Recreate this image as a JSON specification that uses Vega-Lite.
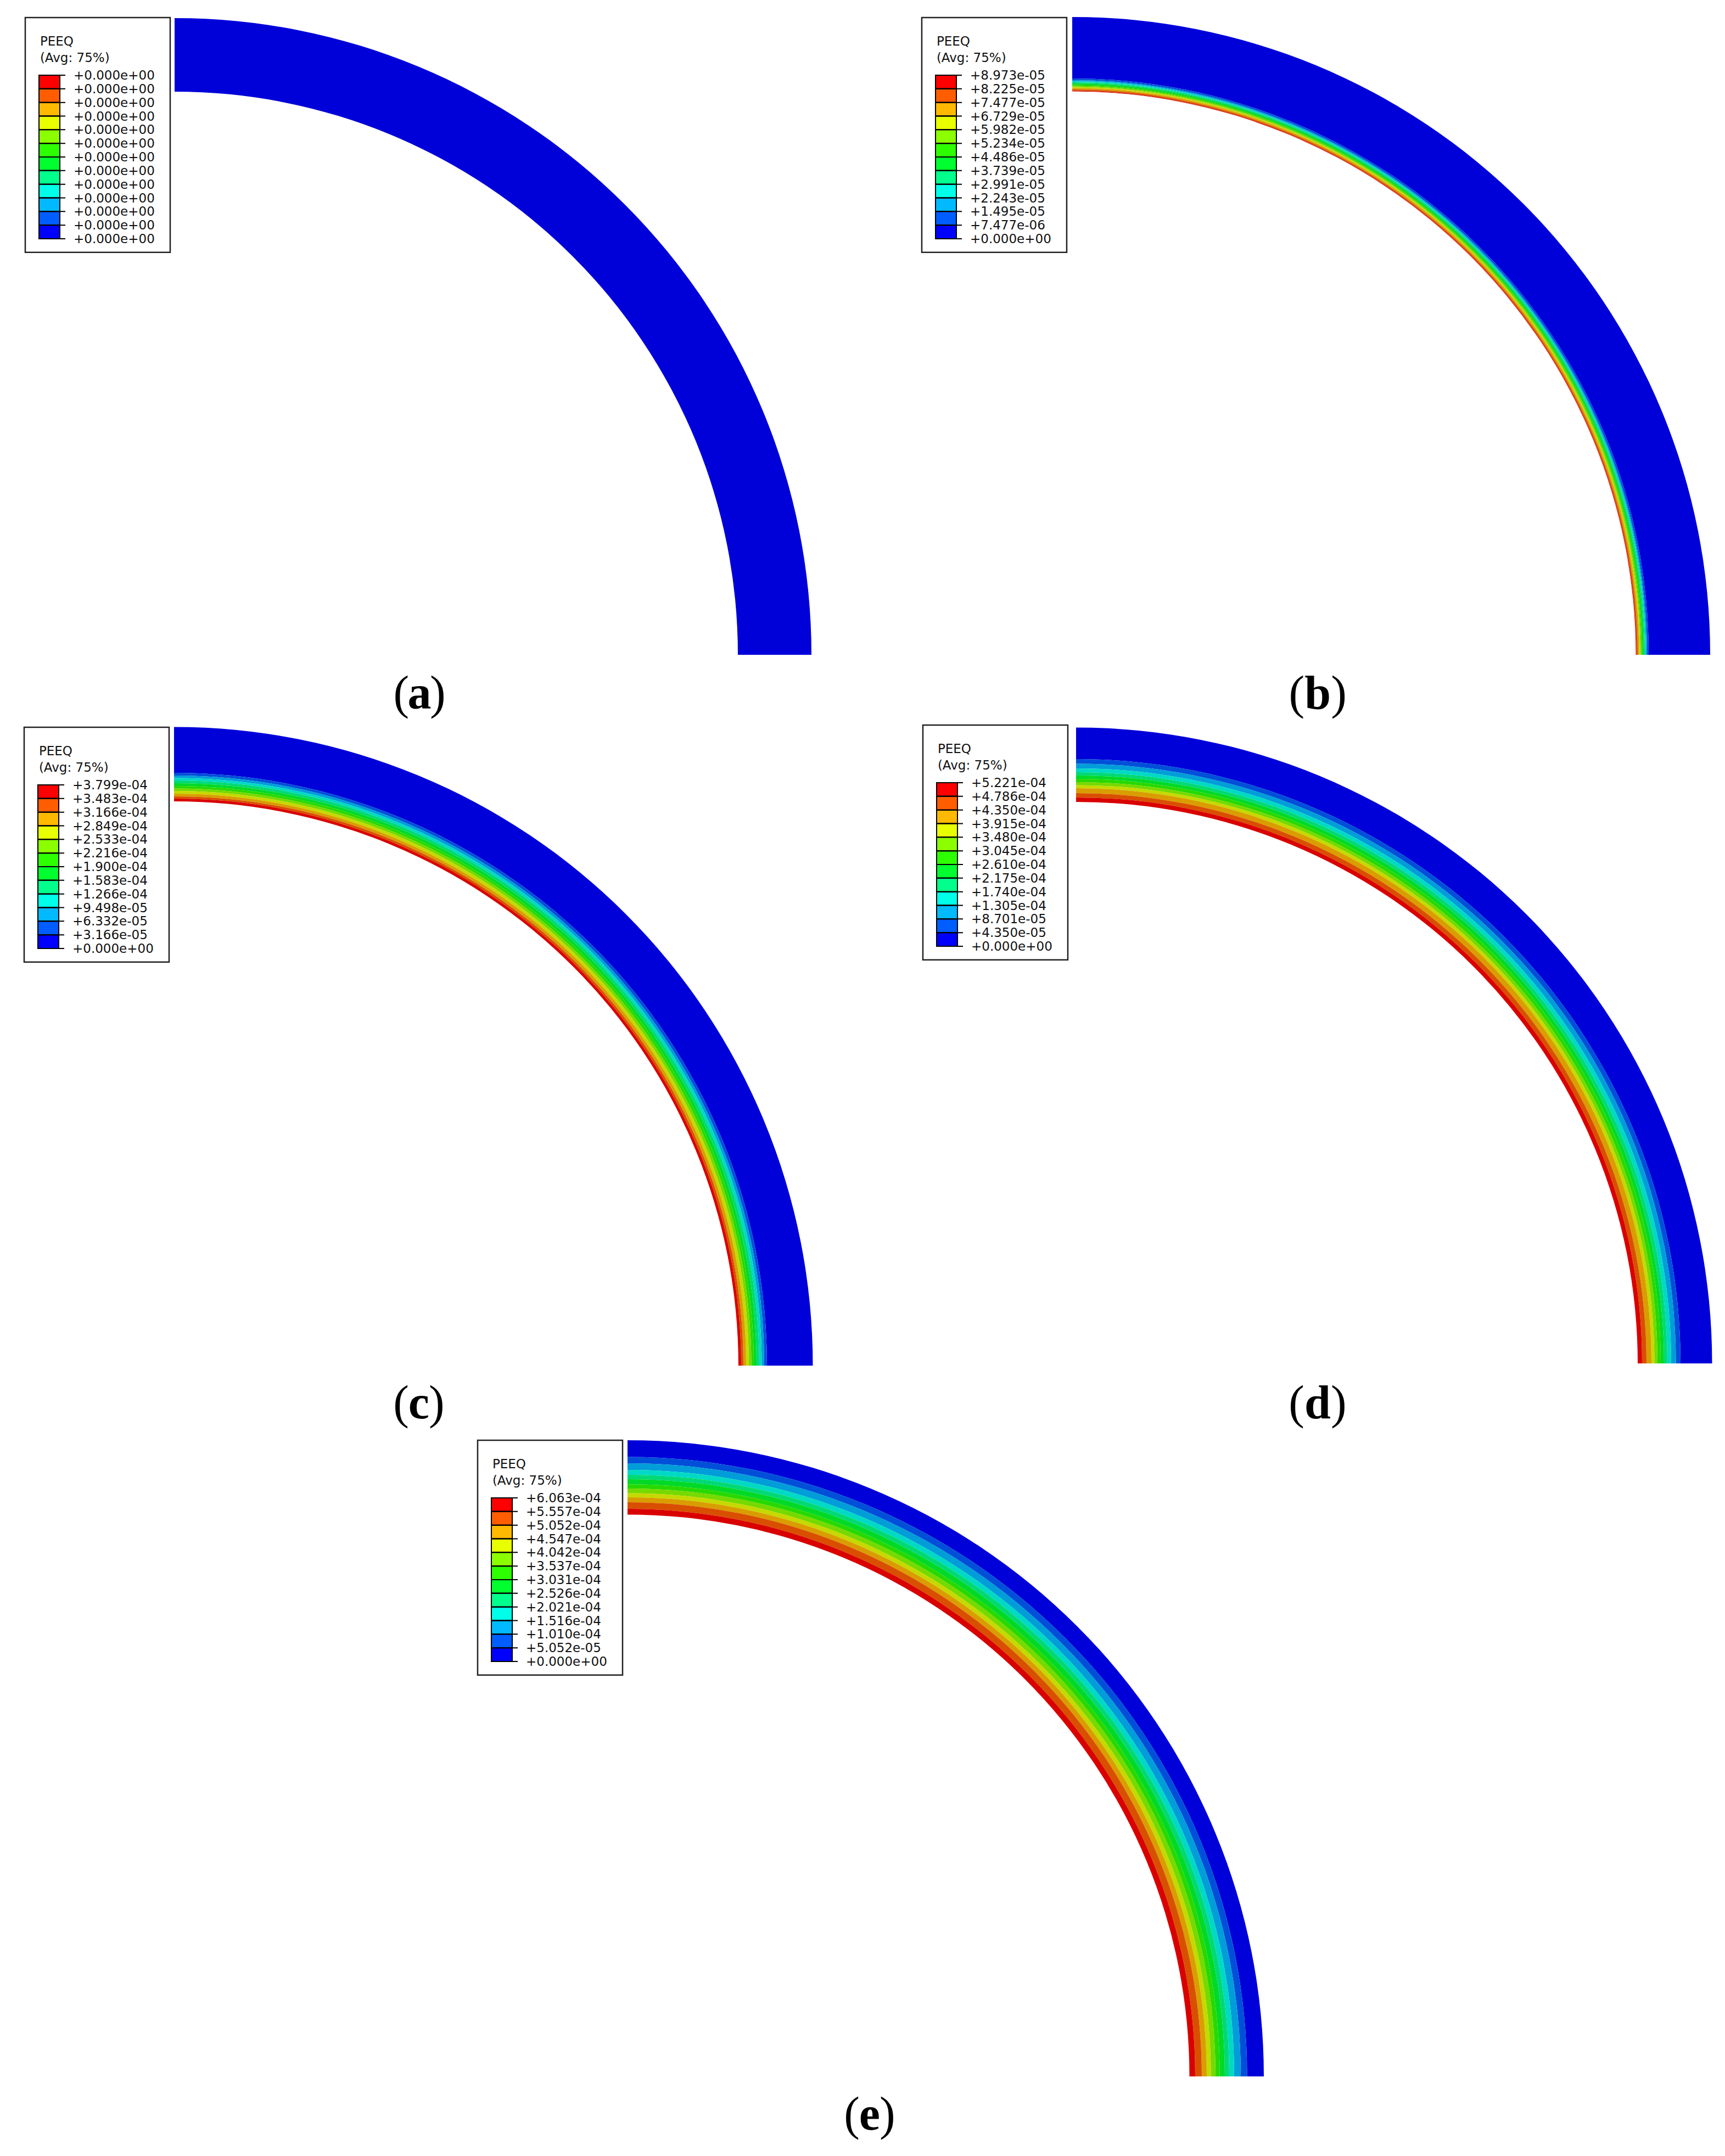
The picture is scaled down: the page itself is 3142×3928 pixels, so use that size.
{"$schema":"https://vega.github.io/schema/vega-lite/v6.json","width":3142,"height":3928,"padding":0,"autosize":{"type":"none"},"background":"white","config":{"view":{"stroke":null},"axis":{"disable":true},"legend":{"disable":true}},"datasets":{"swatches":[{"band":12,"from":0,"to":1},{"band":11,"from":1,"to":2},{"band":10,"from":2,"to":3},{"band":9,"from":3,"to":4},{"band":8,"from":4,"to":5},{"band":7,"from":5,"to":6},{"band":6,"from":6,"to":7},{"band":5,"from":7,"to":8},{"band":4,"from":8,"to":9},{"band":3,"from":9,"to":10},{"band":2,"from":10,"to":11},{"band":1,"from":11,"to":12}],
"bands_a":[{"band":1,"r_in":1026,"r_out":1160}],
"bands_b":[{"band":1,"r_in":1050,"r_out":1162},{"band":2,"r_in":1047,"r_out":1050},{"band":3,"r_in":1045,"r_out":1047},{"band":4,"r_in":1043,"r_out":1045},{"band":5,"r_in":1041,"r_out":1043},{"band":6,"r_in":1038.5,"r_out":1041},{"band":7,"r_in":1036.5,"r_out":1038.5},{"band":8,"r_in":1034.5,"r_out":1036.5},{"band":9,"r_in":1032.5,"r_out":1034.5},{"band":10,"r_in":1030,"r_out":1032.5},{"band":11,"r_in":1027.5,"r_out":1030},{"band":12,"r_in":1026.5,"r_out":1027.5}],
"bands_c":[{"band":1,"r_in":1080,"r_out":1163.5},{"band":2,"r_in":1075,"r_out":1080},{"band":3,"r_in":1070.5,"r_out":1075},{"band":4,"r_in":1066,"r_out":1070.5},{"band":5,"r_in":1061,"r_out":1066},{"band":6,"r_in":1056,"r_out":1061},{"band":7,"r_in":1051.5,"r_out":1056},{"band":8,"r_in":1047,"r_out":1051.5},{"band":9,"r_in":1042,"r_out":1047},{"band":10,"r_in":1037,"r_out":1042},{"band":11,"r_in":1033,"r_out":1037},{"band":12,"r_in":1028,"r_out":1033}],
"bands_d":[{"band":1,"r_in":1101,"r_out":1158.5},{"band":2,"r_in":1092.5,"r_out":1101},{"band":3,"r_in":1084,"r_out":1092.5},{"band":4,"r_in":1077,"r_out":1084},{"band":5,"r_in":1071,"r_out":1077},{"band":6,"r_in":1065,"r_out":1071},{"band":7,"r_in":1059,"r_out":1065},{"band":8,"r_in":1053.5,"r_out":1059},{"band":9,"r_in":1048,"r_out":1053.5},{"band":10,"r_in":1039,"r_out":1048},{"band":11,"r_in":1031,"r_out":1039},{"band":12,"r_in":1023,"r_out":1031}],
"bands_e":[{"band":1,"r_in":1128.5,"r_out":1159},{"band":2,"r_in":1117,"r_out":1128.5},{"band":3,"r_in":1105,"r_out":1117},{"band":4,"r_in":1096,"r_out":1105},{"band":5,"r_in":1088,"r_out":1096},{"band":6,"r_in":1078.7,"r_out":1088},{"band":7,"r_in":1071,"r_out":1078.7},{"band":8,"r_in":1062.5,"r_out":1071},{"band":9,"r_in":1055,"r_out":1062.5},{"band":10,"r_in":1046,"r_out":1055},{"band":11,"r_in":1034,"r_out":1046},{"band":12,"r_in":1023.5,"r_out":1034}],
"labels_a":[{"level":0,"label":"+0.000e+00"},{"level":1,"label":"+0.000e+00"},{"level":2,"label":"+0.000e+00"},{"level":3,"label":"+0.000e+00"},{"level":4,"label":"+0.000e+00"},{"level":5,"label":"+0.000e+00"},{"level":6,"label":"+0.000e+00"},{"level":7,"label":"+0.000e+00"},{"level":8,"label":"+0.000e+00"},{"level":9,"label":"+0.000e+00"},{"level":10,"label":"+0.000e+00"},{"level":11,"label":"+0.000e+00"},{"level":12,"label":"+0.000e+00"}],
"labels_b":[{"level":0,"label":"+8.973e-05"},{"level":1,"label":"+8.225e-05"},{"level":2,"label":"+7.477e-05"},{"level":3,"label":"+6.729e-05"},{"level":4,"label":"+5.982e-05"},{"level":5,"label":"+5.234e-05"},{"level":6,"label":"+4.486e-05"},{"level":7,"label":"+3.739e-05"},{"level":8,"label":"+2.991e-05"},{"level":9,"label":"+2.243e-05"},{"level":10,"label":"+1.495e-05"},{"level":11,"label":"+7.477e-06"},{"level":12,"label":"+0.000e+00"}],
"labels_c":[{"level":0,"label":"+3.799e-04"},{"level":1,"label":"+3.483e-04"},{"level":2,"label":"+3.166e-04"},{"level":3,"label":"+2.849e-04"},{"level":4,"label":"+2.533e-04"},{"level":5,"label":"+2.216e-04"},{"level":6,"label":"+1.900e-04"},{"level":7,"label":"+1.583e-04"},{"level":8,"label":"+1.266e-04"},{"level":9,"label":"+9.498e-05"},{"level":10,"label":"+6.332e-05"},{"level":11,"label":"+3.166e-05"},{"level":12,"label":"+0.000e+00"}],
"labels_d":[{"level":0,"label":"+5.221e-04"},{"level":1,"label":"+4.786e-04"},{"level":2,"label":"+4.350e-04"},{"level":3,"label":"+3.915e-04"},{"level":4,"label":"+3.480e-04"},{"level":5,"label":"+3.045e-04"},{"level":6,"label":"+2.610e-04"},{"level":7,"label":"+2.175e-04"},{"level":8,"label":"+1.740e-04"},{"level":9,"label":"+1.305e-04"},{"level":10,"label":"+8.701e-05"},{"level":11,"label":"+4.350e-05"},{"level":12,"label":"+0.000e+00"}],
"labels_e":[{"level":0,"label":"+6.063e-04"},{"level":1,"label":"+5.557e-04"},{"level":2,"label":"+5.052e-04"},{"level":3,"label":"+4.547e-04"},{"level":4,"label":"+4.042e-04"},{"level":5,"label":"+3.537e-04"},{"level":6,"label":"+3.031e-04"},{"level":7,"label":"+2.526e-04"},{"level":8,"label":"+2.021e-04"},{"level":9,"label":"+1.516e-04"},{"level":10,"label":"+1.010e-04"},{"level":11,"label":"+5.052e-05"},{"level":12,"label":"+0.000e+00"}]},
"resolve":{"scale":{"x":"independent","y":"independent"}},
"layer":[
{"data":{"values":[{"name":"PEEQ","avg":"(Avg: 75%)","letter":"a"}]},"layer":[
{"mark":{"type":"rect","fill":"white","stroke":"#222","strokeWidth":2.5},"encoding":{"x":{"datum":-0.658,"type":"quantitative","scale":{"domain":[0,1],"range":[71,109],"nice":false,"zero":false}},"x2":{"datum":6.289},"y":{"datum":-4.23,"type":"quantitative","scale":{"domain":[0,12],"range":[137,435],"nice":false,"zero":false}},"y2":{"datum":13}}},
{"data":{"name":"bands_a"},"mark":{"type":"arc","theta":0,"theta2":1.5708},"encoding":{"x":{"datum":6.5,"type":"quantitative"},"y":{"datum":42.52,"type":"quantitative"},"radius":{"field":"r_out","type":"quantitative","stack":null,"scale":{"type":"linear","domain":[0,1200],"range":[0,1200],"nice":false,"zero":false}},"radius2":{"field":"r_in"},"color":{"field":"band","type":"ordinal","scale":{"domain":[1,2,3,4,5,6,7,8,9,10,11,12],"range":["#0000d9","#004fd9","#009dd9","#00d9c5","#00d976","#00d927","#27d900","#76d900","#c5d900","#d99d00","#d94f00","#d90000"]}}}},
{"mark":{"type":"text","align":"left","baseline":"alphabetic","font":"DejaVu Sans","fontSize":23,"fill":"#111"},"encoding":{"x":{"datum":0.05,"type":"quantitative"},"y":{"datum":-2.17,"type":"quantitative"},"text":{"field":"name"}}},
{"mark":{"type":"text","align":"left","baseline":"alphabetic","font":"DejaVu Sans","fontSize":23,"fill":"#111"},"encoding":{"x":{"datum":0.05,"type":"quantitative"},"y":{"datum":-0.97,"type":"quantitative"},"text":{"field":"avg"}}},
{"data":{"name":"swatches"},"mark":{"type":"rect","stroke":"#000","strokeWidth":2},"encoding":{"x":{"datum":0,"type":"quantitative"},"x2":{"datum":1},"y":{"field":"from","type":"quantitative"},"y2":{"field":"to"},"fill":{"field":"band","type":"ordinal","scale":{"domain":[1,2,3,4,5,6,7,8,9,10,11,12],"range":["#0000ff","#005dff","#00b9ff","#00ffe8","#00ff8b","#00ff2e","#2eff00","#8bff00","#e8ff00","#ffb900","#ff5d00","#ff0000"]}}}},
{"data":{"name":"labels_a"},"mark":{"type":"rule","stroke":"#000","strokeWidth":2},"encoding":{"x":{"datum":0,"type":"quantitative"},"x2":{"datum":1.263},"y":{"field":"level","type":"quantitative"}}},
{"data":{"name":"labels_a"},"mark":{"type":"text","align":"left","baseline":"middle","font":"DejaVu Sans","fontSize":23,"fill":"#111","dy":1,"dx":-1},"encoding":{"x":{"datum":1.684,"type":"quantitative"},"y":{"field":"level","type":"quantitative"},"text":{"field":"label"}}},
{"mark":{"type":"text","text":"(","align":"right","baseline":"alphabetic","font":"Liberation Serif","fontSize":86,"fill":"#000","dx":-19},"encoding":{"x":{"datum":18.24,"type":"quantitative"},"y":{"datum":46.47,"type":"quantitative"}}},
{"mark":{"type":"text","align":"center","baseline":"alphabetic","font":"Liberation Serif","fontSize":86,"fontWeight":"bold","fill":"#000"},"encoding":{"x":{"datum":18.24,"type":"quantitative"},"y":{"datum":46.47,"type":"quantitative"},"text":{"field":"letter"}}},
{"mark":{"type":"text","text":")","align":"left","baseline":"alphabetic","font":"Liberation Serif","fontSize":86,"fill":"#000","dx":19},"encoding":{"x":{"datum":18.24,"type":"quantitative"},"y":{"datum":46.47,"type":"quantitative"}}}
]},
{"data":{"values":[{"name":"PEEQ","avg":"(Avg: 75%)","letter":"b"}]},"layer":[
{"mark":{"type":"rect","fill":"white","stroke":"#222","strokeWidth":2.5},"encoding":{"x":{"datum":-0.658,"type":"quantitative","scale":{"domain":[0,1],"range":[1704,1742],"nice":false,"zero":false}},"x2":{"datum":6.289},"y":{"datum":-4.23,"type":"quantitative","scale":{"domain":[0,12],"range":[137,435],"nice":false,"zero":false}},"y2":{"datum":13}}},
{"data":{"name":"bands_b"},"mark":{"type":"arc","theta":0,"theta2":1.5708},"encoding":{"x":{"datum":6.553,"type":"quantitative"},"y":{"datum":42.52,"type":"quantitative"},"radius":{"field":"r_out","type":"quantitative","stack":null},"radius2":{"field":"r_in"},"color":{"field":"band","type":"ordinal"}}},
{"mark":{"type":"text","align":"left","baseline":"alphabetic","font":"DejaVu Sans","fontSize":23,"fill":"#111"},"encoding":{"x":{"datum":0.05,"type":"quantitative"},"y":{"datum":-2.17,"type":"quantitative"},"text":{"field":"name"}}},
{"mark":{"type":"text","align":"left","baseline":"alphabetic","font":"DejaVu Sans","fontSize":23,"fill":"#111"},"encoding":{"x":{"datum":0.05,"type":"quantitative"},"y":{"datum":-0.97,"type":"quantitative"},"text":{"field":"avg"}}},
{"data":{"name":"swatches"},"mark":{"type":"rect","stroke":"#000","strokeWidth":2},"encoding":{"x":{"datum":0,"type":"quantitative"},"x2":{"datum":1},"y":{"field":"from","type":"quantitative"},"y2":{"field":"to"},"fill":{"field":"band","type":"ordinal"}}},
{"data":{"name":"labels_b"},"mark":{"type":"rule","stroke":"#000","strokeWidth":2},"encoding":{"x":{"datum":0,"type":"quantitative"},"x2":{"datum":1.263},"y":{"field":"level","type":"quantitative"}}},
{"data":{"name":"labels_b"},"mark":{"type":"text","align":"left","baseline":"middle","font":"DejaVu Sans","fontSize":23,"fill":"#111","dy":1,"dx":-1},"encoding":{"x":{"datum":1.684,"type":"quantitative"},"y":{"field":"level","type":"quantitative"},"text":{"field":"label"}}},
{"mark":{"type":"text","text":"(","align":"right","baseline":"alphabetic","font":"Liberation Serif","fontSize":86,"fill":"#000","dx":-24},"encoding":{"x":{"datum":18.32,"type":"quantitative"},"y":{"datum":46.47,"type":"quantitative"}}},
{"mark":{"type":"text","align":"center","baseline":"alphabetic","font":"Liberation Serif","fontSize":86,"fontWeight":"bold","fill":"#000"},"encoding":{"x":{"datum":18.32,"type":"quantitative"},"y":{"datum":46.47,"type":"quantitative"},"text":{"field":"letter"}}},
{"mark":{"type":"text","text":")","align":"left","baseline":"alphabetic","font":"Liberation Serif","fontSize":86,"fill":"#000","dx":24},"encoding":{"x":{"datum":18.32,"type":"quantitative"},"y":{"datum":46.47,"type":"quantitative"}}}
]},
{"data":{"values":[{"name":"PEEQ","avg":"(Avg: 75%)","letter":"c"}]},"layer":[
{"mark":{"type":"rect","fill":"white","stroke":"#222","strokeWidth":2.5},"encoding":{"x":{"datum":-0.658,"type":"quantitative","scale":{"domain":[0,1],"range":[69,107],"nice":false,"zero":false}},"x2":{"datum":6.289},"y":{"datum":-4.23,"type":"quantitative","scale":{"domain":[0,12],"range":[1430,1728],"nice":false,"zero":false}},"y2":{"datum":13}}},
{"data":{"name":"bands_c"},"mark":{"type":"arc","theta":0,"theta2":1.5708},"encoding":{"x":{"datum":6.526,"type":"quantitative"},"y":{"datum":42.6,"type":"quantitative"},"radius":{"field":"r_out","type":"quantitative","stack":null},"radius2":{"field":"r_in"},"color":{"field":"band","type":"ordinal"}}},
{"mark":{"type":"text","align":"left","baseline":"alphabetic","font":"DejaVu Sans","fontSize":23,"fill":"#111"},"encoding":{"x":{"datum":0.05,"type":"quantitative"},"y":{"datum":-2.17,"type":"quantitative"},"text":{"field":"name"}}},
{"mark":{"type":"text","align":"left","baseline":"alphabetic","font":"DejaVu Sans","fontSize":23,"fill":"#111"},"encoding":{"x":{"datum":0.05,"type":"quantitative"},"y":{"datum":-0.97,"type":"quantitative"},"text":{"field":"avg"}}},
{"data":{"name":"swatches"},"mark":{"type":"rect","stroke":"#000","strokeWidth":2},"encoding":{"x":{"datum":0,"type":"quantitative"},"x2":{"datum":1},"y":{"field":"from","type":"quantitative"},"y2":{"field":"to"},"fill":{"field":"band","type":"ordinal"}}},
{"data":{"name":"labels_c"},"mark":{"type":"rule","stroke":"#000","strokeWidth":2},"encoding":{"x":{"datum":0,"type":"quantitative"},"x2":{"datum":1.263},"y":{"field":"level","type":"quantitative"}}},
{"data":{"name":"labels_c"},"mark":{"type":"text","align":"left","baseline":"middle","font":"DejaVu Sans","fontSize":23,"fill":"#111","dy":1,"dx":-1},"encoding":{"x":{"datum":1.684,"type":"quantitative"},"y":{"field":"level","type":"quantitative"},"text":{"field":"label"}}},
{"mark":{"type":"text","text":"(","align":"right","baseline":"alphabetic","font":"Liberation Serif","fontSize":86,"fill":"#000","dx":-18},"encoding":{"x":{"datum":18.26,"type":"quantitative"},"y":{"datum":46.47,"type":"quantitative"}}},
{"mark":{"type":"text","align":"center","baseline":"alphabetic","font":"Liberation Serif","fontSize":86,"fontWeight":"bold","fill":"#000"},"encoding":{"x":{"datum":18.26,"type":"quantitative"},"y":{"datum":46.47,"type":"quantitative"},"text":{"field":"letter"}}},
{"mark":{"type":"text","text":")","align":"left","baseline":"alphabetic","font":"Liberation Serif","fontSize":86,"fill":"#000","dx":18},"encoding":{"x":{"datum":18.26,"type":"quantitative"},"y":{"datum":46.47,"type":"quantitative"}}}
]},
{"data":{"values":[{"name":"PEEQ","avg":"(Avg: 75%)","letter":"d"}]},"layer":[
{"mark":{"type":"rect","fill":"white","stroke":"#222","strokeWidth":2.5},"encoding":{"x":{"datum":-0.658,"type":"quantitative","scale":{"domain":[0,1],"range":[1706,1744],"nice":false,"zero":false}},"x2":{"datum":6.289},"y":{"datum":-4.23,"type":"quantitative","scale":{"domain":[0,12],"range":[1426,1724],"nice":false,"zero":false}},"y2":{"datum":13}}},
{"data":{"name":"bands_d"},"mark":{"type":"arc","theta":0,"theta2":1.5708},"encoding":{"x":{"datum":6.684,"type":"quantitative"},"y":{"datum":42.6,"type":"quantitative"},"radius":{"field":"r_out","type":"quantitative","stack":null},"radius2":{"field":"r_in"},"color":{"field":"band","type":"ordinal"}}},
{"mark":{"type":"text","align":"left","baseline":"alphabetic","font":"DejaVu Sans","fontSize":23,"fill":"#111"},"encoding":{"x":{"datum":0.05,"type":"quantitative"},"y":{"datum":-2.17,"type":"quantitative"},"text":{"field":"name"}}},
{"mark":{"type":"text","align":"left","baseline":"alphabetic","font":"DejaVu Sans","fontSize":23,"fill":"#111"},"encoding":{"x":{"datum":0.05,"type":"quantitative"},"y":{"datum":-0.97,"type":"quantitative"},"text":{"field":"avg"}}},
{"data":{"name":"swatches"},"mark":{"type":"rect","stroke":"#000","strokeWidth":2},"encoding":{"x":{"datum":0,"type":"quantitative"},"x2":{"datum":1},"y":{"field":"from","type":"quantitative"},"y2":{"field":"to"},"fill":{"field":"band","type":"ordinal"}}},
{"data":{"name":"labels_d"},"mark":{"type":"rule","stroke":"#000","strokeWidth":2},"encoding":{"x":{"datum":0,"type":"quantitative"},"x2":{"datum":1.263},"y":{"field":"level","type":"quantitative"}}},
{"data":{"name":"labels_d"},"mark":{"type":"text","align":"left","baseline":"middle","font":"DejaVu Sans","fontSize":23,"fill":"#111","dy":1,"dx":-1},"encoding":{"x":{"datum":1.684,"type":"quantitative"},"y":{"field":"level","type":"quantitative"},"text":{"field":"label"}}},
{"mark":{"type":"text","text":"(","align":"right","baseline":"alphabetic","font":"Liberation Serif","fontSize":86,"fill":"#000","dx":-24},"encoding":{"x":{"datum":18.26,"type":"quantitative"},"y":{"datum":46.63,"type":"quantitative"}}},
{"mark":{"type":"text","align":"center","baseline":"alphabetic","font":"Liberation Serif","fontSize":86,"fontWeight":"bold","fill":"#000"},"encoding":{"x":{"datum":18.26,"type":"quantitative"},"y":{"datum":46.63,"type":"quantitative"},"text":{"field":"letter"}}},
{"mark":{"type":"text","text":")","align":"left","baseline":"alphabetic","font":"Liberation Serif","fontSize":86,"fill":"#000","dx":24},"encoding":{"x":{"datum":18.26,"type":"quantitative"},"y":{"datum":46.63,"type":"quantitative"}}}
]},
{"data":{"values":[{"name":"PEEQ","avg":"(Avg: 75%)","letter":"e"}]},"layer":[
{"mark":{"type":"rect","fill":"white","stroke":"#222","strokeWidth":2.5},"encoding":{"x":{"datum":-0.658,"type":"quantitative","scale":{"domain":[0,1],"range":[895,933],"nice":false,"zero":false}},"x2":{"datum":6.289},"y":{"datum":-4.23,"type":"quantitative","scale":{"domain":[0,12],"range":[2729,3027],"nice":false,"zero":false}},"y2":{"datum":13}}},
{"data":{"name":"bands_e"},"mark":{"type":"arc","theta":0,"theta2":1.5708},"encoding":{"x":{"datum":6.526,"type":"quantitative"},"y":{"datum":42.44,"type":"quantitative"},"radius":{"field":"r_out","type":"quantitative","stack":null},"radius2":{"field":"r_in"},"color":{"field":"band","type":"ordinal"}}},
{"mark":{"type":"text","align":"left","baseline":"alphabetic","font":"DejaVu Sans","fontSize":23,"fill":"#111"},"encoding":{"x":{"datum":0.05,"type":"quantitative"},"y":{"datum":-2.17,"type":"quantitative"},"text":{"field":"name"}}},
{"mark":{"type":"text","align":"left","baseline":"alphabetic","font":"DejaVu Sans","fontSize":23,"fill":"#111"},"encoding":{"x":{"datum":0.05,"type":"quantitative"},"y":{"datum":-0.97,"type":"quantitative"},"text":{"field":"avg"}}},
{"data":{"name":"swatches"},"mark":{"type":"rect","stroke":"#000","strokeWidth":2},"encoding":{"x":{"datum":0,"type":"quantitative"},"x2":{"datum":1},"y":{"field":"from","type":"quantitative"},"y2":{"field":"to"},"fill":{"field":"band","type":"ordinal"}}},
{"data":{"name":"labels_e"},"mark":{"type":"rule","stroke":"#000","strokeWidth":2},"encoding":{"x":{"datum":0,"type":"quantitative"},"x2":{"datum":1.263},"y":{"field":"level","type":"quantitative"}}},
{"data":{"name":"labels_e"},"mark":{"type":"text","align":"left","baseline":"middle","font":"DejaVu Sans","fontSize":23,"fill":"#111","dy":1,"dx":-1},"encoding":{"x":{"datum":1.684,"type":"quantitative"},"y":{"field":"level","type":"quantitative"},"text":{"field":"label"}}},
{"mark":{"type":"text","text":"(","align":"right","baseline":"alphabetic","font":"Liberation Serif","fontSize":86,"fill":"#000","dx":-18},"encoding":{"x":{"datum":18.13,"type":"quantitative"},"y":{"datum":46.35,"type":"quantitative"}}},
{"mark":{"type":"text","align":"center","baseline":"alphabetic","font":"Liberation Serif","fontSize":86,"fontWeight":"bold","fill":"#000"},"encoding":{"x":{"datum":18.13,"type":"quantitative"},"y":{"datum":46.35,"type":"quantitative"},"text":{"field":"letter"}}},
{"mark":{"type":"text","text":")","align":"left","baseline":"alphabetic","font":"Liberation Serif","fontSize":86,"fill":"#000","dx":18},"encoding":{"x":{"datum":18.13,"type":"quantitative"},"y":{"datum":46.35,"type":"quantitative"}}}
]}
]}
